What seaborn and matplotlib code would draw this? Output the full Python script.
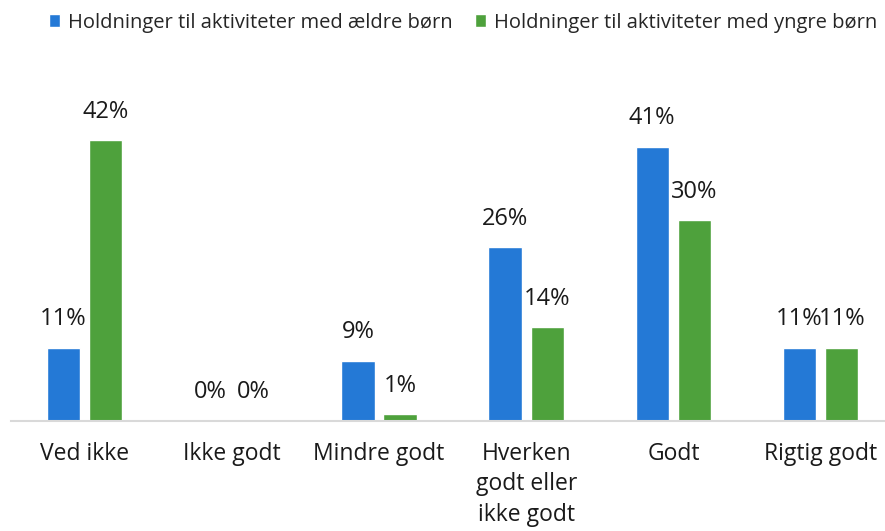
import pandas as pd
import matplotlib
matplotlib.use("Agg")
import matplotlib.pyplot as plt
import seaborn as sns

# Data
categories = ["Ved ikke", "Ikke godt", "Mindre godt", "Hverken\ngodt eller\nikke godt", "Godt", "Rigtig godt"]
series = ["Holdninger til aktiviteter med ældre børn", "Holdninger til aktiviteter med yngre børn"]
older = [11, 0, 9, 26, 41, 11]
younger = [42, 0, 1, 14, 30, 11]

df = pd.DataFrame({
    "kategori": categories * 2,
    "gruppe": [series[0]] * len(categories) + [series[1]] * len(categories),
    "andel": older + younger,
})

sns.set_style("white")
plt.rcParams["font.family"] = ["Open Sans", "DejaVu Sans"]

fig = plt.figure(figsize=(8.85, 5.31), dpi=100)
ax = fig.add_axes([0.0124, 0.207, 0.998, 0.68])

palette = ["#2479d6", "#4ea13c"]
sns.barplot(data=df, x="kategori", y="andel", hue="gruppe", palette=palette,
            width=0.575, gap=0.21, ax=ax, legend=True, saturation=1)

for cont in ax.containers:
    labels = [f"{v:.0f}%" for v in cont.datavalues]
    ax.bar_label(cont, labels=labels, padding=12, fontsize=17, color="#1a1a1a")

ax.set_ylim(0, 54)
ax.set_xlim(-0.5, 5.5)
ax.set_xlabel("")
ax.set_ylabel("")
ax.set_yticks([])
ax.tick_params(axis="x", length=0, pad=15, labelsize=16.5, labelcolor="#1a1a1a")
for lbl in ax.get_xticklabels():
    lbl.set_linespacing(1.35)
for s in ["top", "left", "right"]:
    ax.spines[s].set_visible(False)
ax.spines["bottom"].set_color("#d9d9d9")
ax.spines["bottom"].set_linewidth(1.5)

handles, labels = ax.get_legend_handles_labels()
ax.get_legend().remove()
fig.legend(handles, labels, loc="upper left", bbox_to_anchor=(0.035, 1.01), ncol=2,
           frameon=False, fontsize=14.5, handlelength=0.55, handleheight=0.6,
           handletextpad=0.4, columnspacing=1.1)

fig.savefig("out.png", dpi=100)
